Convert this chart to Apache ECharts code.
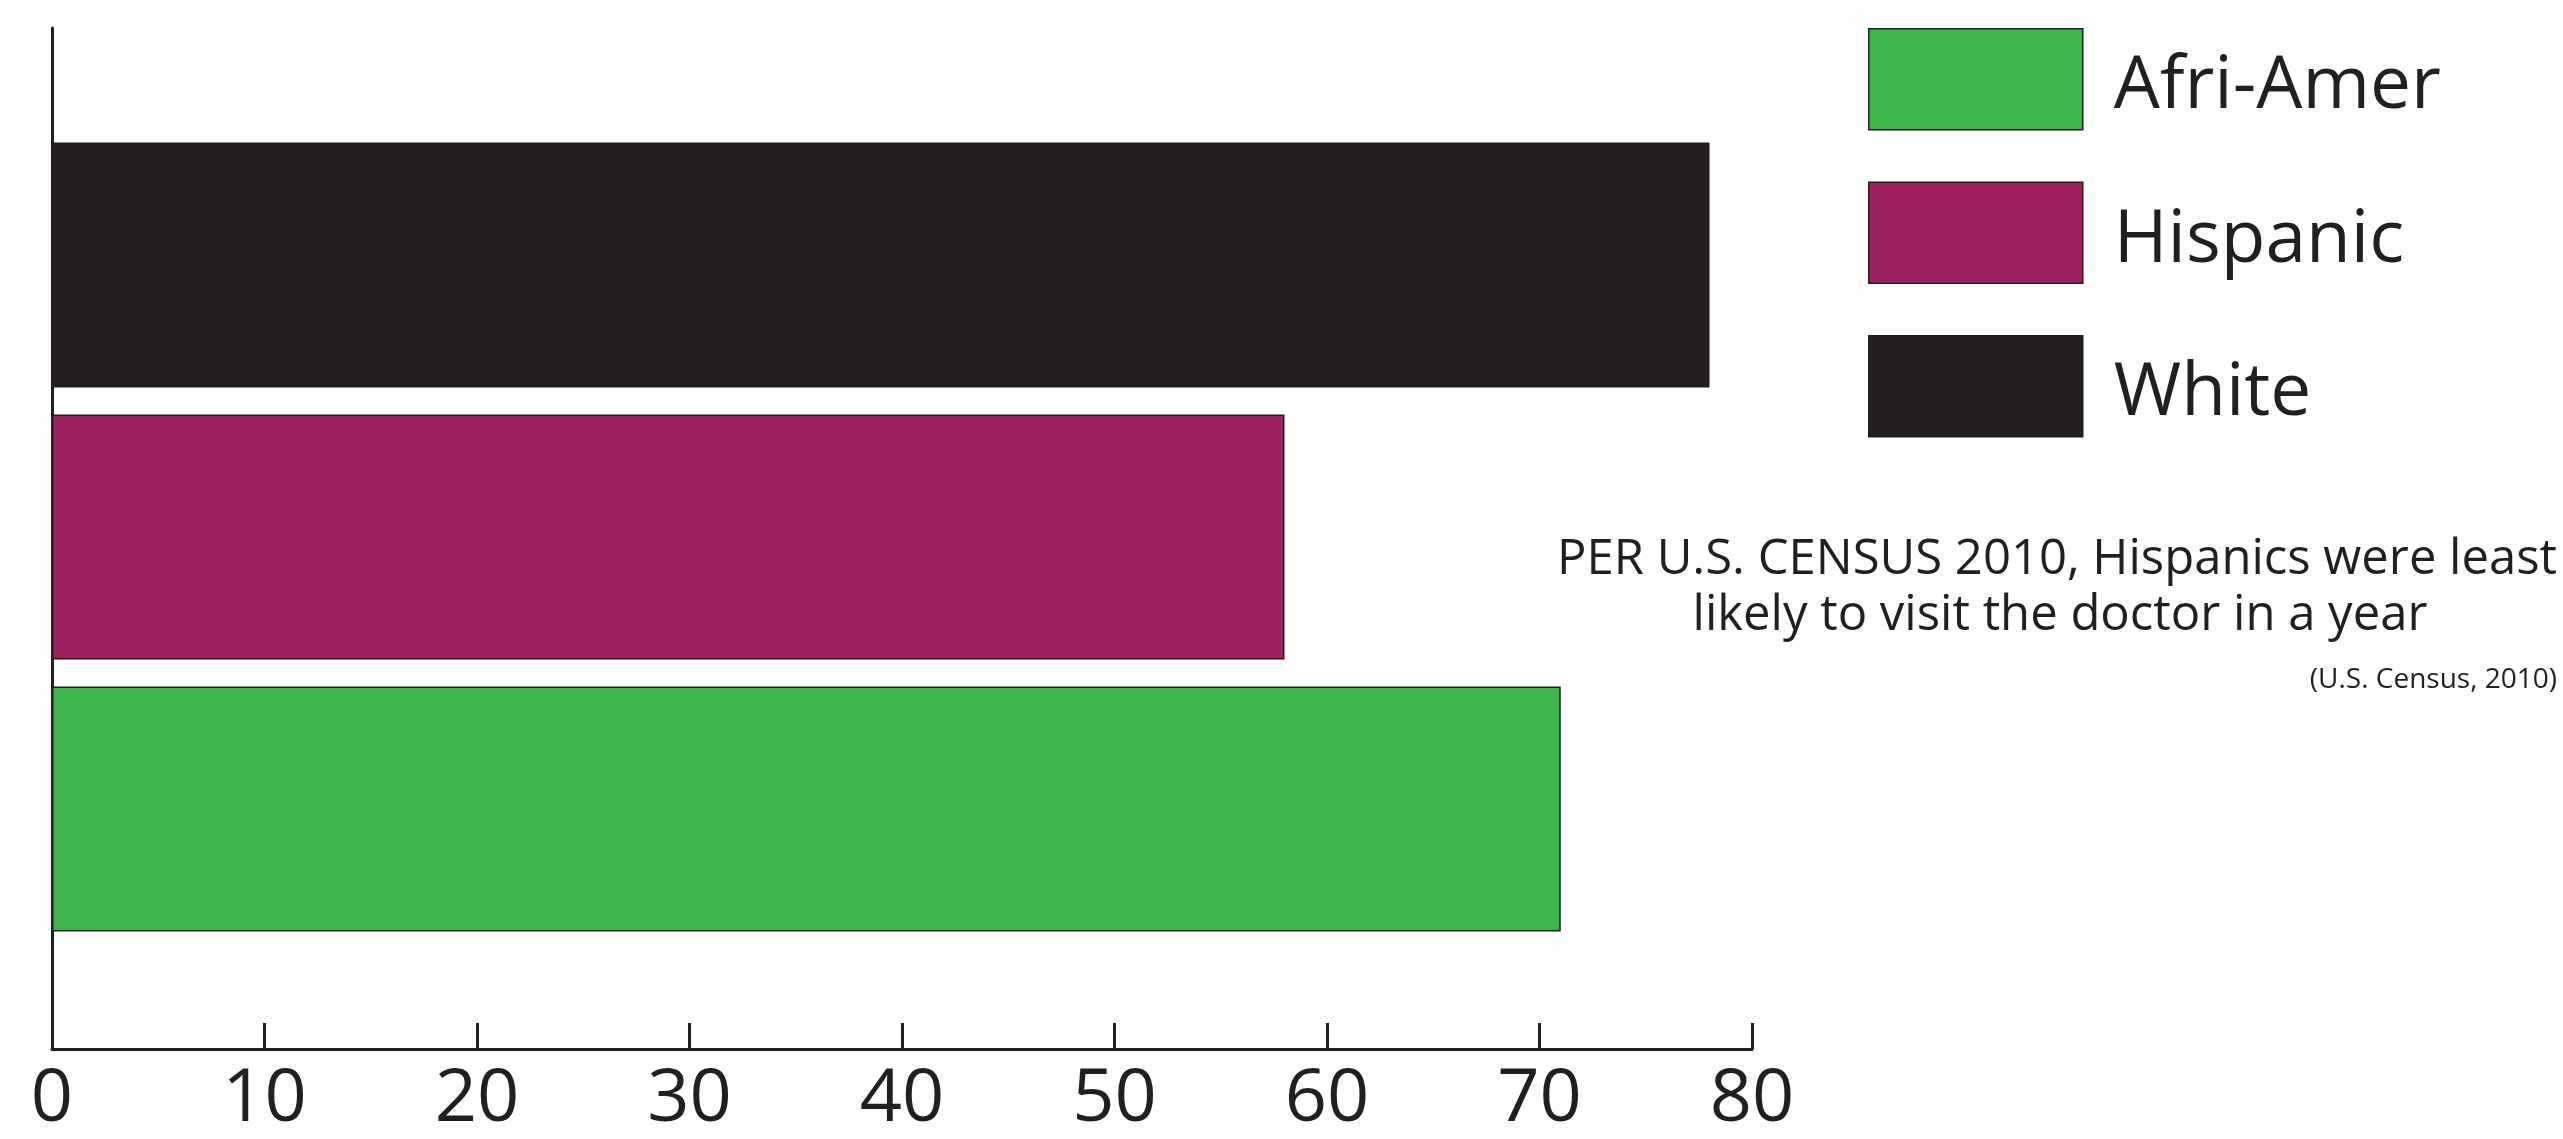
<!DOCTYPE html>
<html>
<head>
<meta charset="utf-8">
<script src="https://cdn.jsdelivr.net/npm/echarts@6/dist/echarts.min.js"></script>
<style>
html,body{margin:0;padding:0;background:#fff;}
#chart{width:2563px;height:1139px;}
</style>
</head>
<body>
<div id="chart"></div>
<script>
// Data
const categories = ['Afri-Amer', 'Hispanic', 'White'];
const values = [71, 58, 78];
const colors = ['#3bb54a', '#9e1f5e', '#231f20'];
const tickMin = 0, tickMax = 80, tickStep = 10;
const noteLines = ['PER U.S. CENSUS 2010, Hispanics were least', 'likely to visit the doctor in a year'];
const sourceText = '(U.S. Census, 2010)';

const FONT = '"Open Sans", "Noto Sans", sans-serif';
const INK = '#231f20';

const chart = echarts.init(document.getElementById('chart'), null, {renderer: 'canvas'});

const series = categories.map((name, i) => ({
  name: name,
  type: 'bar',
  stack: 'all',
  xAxisIndex: 1,
  yAxisIndex: 1,
  barCategoryGap: '10%',
  itemStyle: {color: colors[i], borderColor: INK, borderWidth: 1.5},
  data: categories.map((c, j) => (j === i ? values[i] : null))
}));

chart.setOption({
  backgroundColor: '#ffffff',
  animation: false,
  grid: [
    {left: 52, right: 811, top: 28, bottom: 90},
    {left: 52, right: 811, top: 129, bottom: 194}
  ],
  xAxis: [
    {
      gridIndex: 0, type: 'value', min: tickMin, max: tickMax, interval: tickStep,
      axisLine: {show: true, lineStyle: {color: INK, width: 3}},
      axisTick: {show: true, inside: true, length: 26, lineStyle: {color: INK, width: 3}},
      axisLabel: {color: INK, fontSize: 74, fontFamily: FONT, margin: 14},
      splitLine: {show: false}
    },
    {
      gridIndex: 1, type: 'value', min: tickMin, max: tickMax, show: false
    }
  ],
  yAxis: [
    {
      gridIndex: 0, type: 'value', min: 0, max: 1,
      axisLine: {show: true, lineStyle: {color: INK, width: 3}},
      axisTick: {show: false}, axisLabel: {show: false}, splitLine: {show: false}
    },
    {
      gridIndex: 1, type: 'category', data: categories, show: false
    }
  ],
  legend: {
    data: categories,
    orient: 'vertical',
    left: 1868, top: 28,
    padding: 0,
    itemWidth: 214, itemHeight: 101, itemGap: 51,
    icon: 'rect',
    itemStyle: {borderColor: INK, borderWidth: 1.5},
    formatter: '{t|{name}}',
    textStyle: {
      color: INK, fontSize: 73, fontFamily: FONT,
      rich: {t: {color: INK, fontSize: 73, fontFamily: FONT, padding: [16, 0, 0, 26]}}
    },
    selectedMode: false
  },
  graphic: [
    {type: 'text', x: 2057, y: 560, style: {text: noteLines[0], fill: INK, font: '49px ' + FONT, align: 'center', verticalAlign: 'middle'}},
    {type: 'text', x: 2060, y: 616, style: {text: noteLines[1], fill: INK, font: '49px ' + FONT, align: 'center', verticalAlign: 'middle'}},
    {type: 'text', x: 2557, y: 680, style: {text: sourceText, fill: INK, font: '28px ' + FONT, align: 'right', verticalAlign: 'middle'}}
  ],
  series: series
});
</script>
</body>
</html>
